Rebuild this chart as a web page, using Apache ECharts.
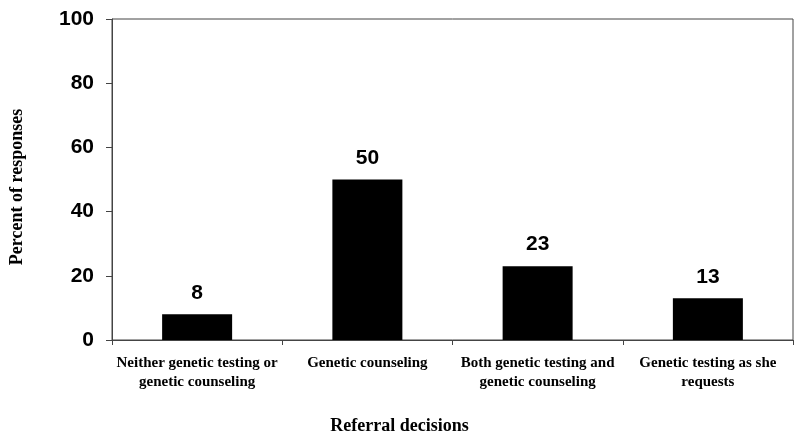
<!DOCTYPE html>
<html><head><meta charset="utf-8">
<script src="https://cdn.jsdelivr.net/npm/echarts@6/dist/echarts.min.js"></script>
<style>html,body{margin:0;padding:0;background:#fff}#c{width:800px;height:440px}</style>
</head><body><div id="c"></div>
<script>
const categories = [
  "Neither genetic testing or\ngenetic counseling",
  "Genetic counseling",
  "Both genetic testing and\ngenetic counseling",
  "Genetic testing as she\nrequests"
];
const values = [8, 50, 23, 13];
const yTicks = [0, 20, 40, 60, 80, 100];

const chart = echarts.init(document.getElementById('c'), null, {renderer: 'canvas'});
chart.setOption({
  animation: false,
  grid: {left: 111, right: 7, top: 19, bottom: 100, show: true, borderColor: '#444', borderWidth: 1, backgroundColor: 'transparent'},
  xAxis: {
    type: 'category',
    data: categories,
    name: 'Referral decisions',
    nameLocation: 'middle',
    nameGap: 77,
    nameTextStyle: {fontFamily: 'Liberation Serif', fontWeight: 'bold', fontSize: 18, color: '#000', padding: [0, 106, 0, 0]},
    axisLine: {lineStyle: {color: '#444', width: 1}},
    axisTick: {show: true, length: 5, lineStyle: {color: '#444'}},
    axisLabel: {fontFamily: 'Liberation Serif', fontWeight: 'bold', fontSize: 15, color: '#000', lineHeight: 19, margin: 14, interval: 0}
  },
  yAxis: {
    type: 'value',
    min: 0, max: 100, interval: 20,
    name: 'Percent of responses',
    nameLocation: 'middle',
    nameGap: 86,
    nameRotate: 90,
    nameTextStyle: {fontFamily: 'Liberation Serif', fontWeight: 'bold', fontSize: 18, color: '#000', padding: [0, 15, 0, 0]},
    axisLine: {show: true, lineStyle: {color: '#444', width: 1}},
    axisTick: {show: true, length: 6, lineStyle: {color: '#444'}},
    splitLine: {show: false},
    axisLabel: {fontFamily: 'Liberation Sans', fontWeight: 'bold', fontSize: 21, color: '#000', margin: 18,
      formatter: v => yTicks.includes(v) ? String(v) : ''}
  },
  series: [{
    type: 'bar',
    data: values,
    barWidth: 70,
    itemStyle: {color: '#000'},
    label: {show: true, position: 'top', distance: 11, fontFamily: 'Liberation Sans', fontWeight: 'bold', fontSize: 21, color: '#000'}
  }]
});
</script></body></html>
